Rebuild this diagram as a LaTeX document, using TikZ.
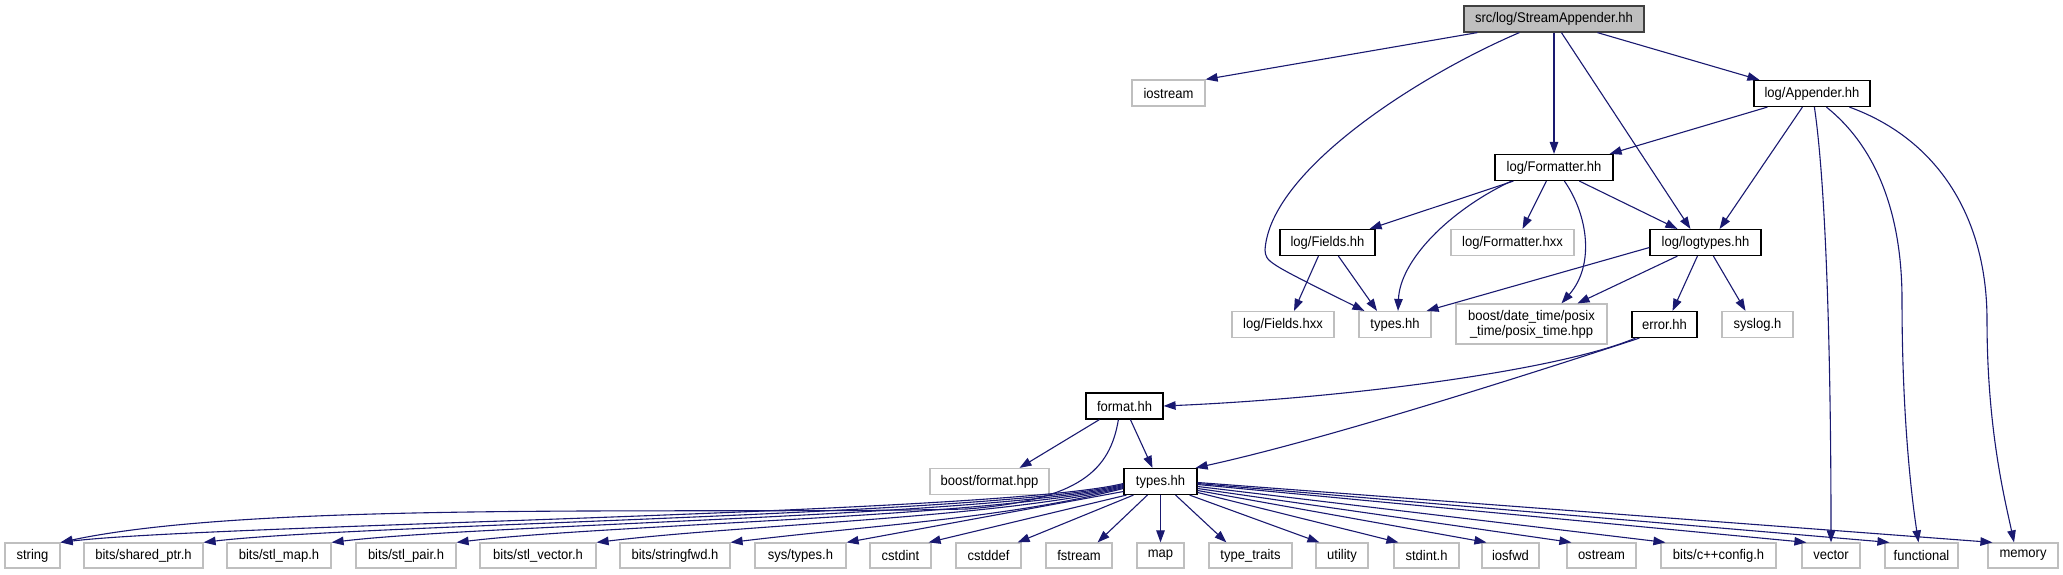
\documentclass[tikz,border=0pt]{standalone}
\usepackage{fontspec}
\setmainfont{Liberation Sans}[FakeStretch=0.93]
\usetikzlibrary{arrows.meta}
\definecolor{edgeblue}{HTML}{191970}
\definecolor{extgray}{HTML}{BFBFBF}
\definecolor{rootline}{HTML}{404040}

\begin{document}
\begin{tikzpicture}[x=1pt, y=-1pt,
    font=\fontsize{14}{15}\selectfont,
    filebox/.style={rectangle, inner sep=0pt, minimum height=26, line width=1.2pt,
                    align=center},
    docfile/.style={filebox, draw=black, fill=white},
    extfile/.style={filebox, draw=extgray, fill=white},
    mainfile/.style={filebox, draw=rootline, fill=extgray},
    incl/.style={edgeblue, line width=1.1pt, -{Triangle[length=12pt, width=8.5pt]}},
  ]
  \useasboundingbox (0,0) rectangle (2063,575);

  % the header itself and what it includes directly
  \node[mainfile, minimum width=180] (root) at (1554,19) {src/log/StreamAppender.hh};
  \node[extfile, minimum width=73] (iostream) at (1168.5,93) {iostream};
  \node[docfile, minimum width=116] (appender) at (1812,93.5) {log/Appender.hh};
  \node[docfile, minimum width=118] (formatter) at (1554,167.5) {log/Formatter.hh};

  % second level
  \node[docfile, minimum width=95] (fields) at (1327.5,242.5) {log/Fields.hh};
  \node[extfile, minimum width=123] (formatterhxx) at (1512.5,242.5) {log/Formatter.hxx};
  \node[docfile, minimum width=111] (logtypes) at (1705.5,242.5) {log/logtypes.hh};

  \node[extfile, minimum width=102] (fieldshxx) at (1283,324.5) {log/Fields.hxx};
  \node[extfile, minimum width=72] (typesA) at (1395,324.5) {types.hh};
  \node[extfile, minimum width=151, minimum height=40] (posix) at (1531.5,324)
    {boost/date\_time/posix\\\_time/posix\_time.hpp};
  \node[docfile, minimum width=65] (error) at (1664.5,324.5) {error.hh};
  \node[extfile, minimum width=71] (syslog) at (1757.5,324.5) {syslog.h};

  \node[docfile, minimum width=77] (format) at (1124.5,406) {format.hh};
  \node[extfile, minimum width=119] (boostformat) at (989.5,481.5) {boost/format.hpp};
  \node[docfile, minimum width=73] (typesB) at (1160.5,481.5) {types.hh};

  % system headers along the bottom
  \foreach \n/\x/\w/\t in {string/32.5/55/{string}, sharedptr/143.5/119/{bits/shared\_ptr.h},
      stlmap/279/104/{bits/stl\_map.h}, stlpair/406/100/{bits/stl\_pair.h},
      stlvector/538/116/{bits/stl\_vector.h}, stringfwd/675/110/{bits/stringfwd.h},
      systypes/800.5/91/{sys/types.h}, cstdint/900.5/61/{cstdint}, cstddef/988.5/65/{cstddef},
      fstream/1079/66/{fstream}, map/1160.5/47/{map}, typetraits/1250.5/83/{type\_traits},
      utility/1342/52/{utility}, stdint/1426.5/65/{stdint.h}, iosfwd/1510.5/57/{iosfwd},
      ostream/1601.5/69/{ostream}, cxxconfig/1718.5/115/{bits/c++config.h},
      vector/1831/58/{vector}, functional/1921.5/73/{functional}, memory/2023/70/{memory}}
    \node[extfile, minimum width=\w, minimum height=25] (\n) at (\x,555.5) {\t};

  % includes of StreamAppender.hh
  \draw[incl] ([xshift=14]root.south west) -- (iostream.north east);
  \draw[incl] ([xshift=56]root.south west) .. controls (1420,75) and (1270,170) .. (1265,250)
    .. controls (1266,262) .. ([xshift=6]typesA.north west);
  \draw[incl] (root) -- (formatter);
  \draw[incl] ([xshift=98]root.south west) -- ([xshift=41]logtypes.north west);
  \draw[incl] ([xshift=134]root.south west) -- ([xshift=6]appender.north west);

  % Appender.hh
  \draw[incl] ([xshift=14]appender.south west) -- ([xshift=-4]formatter.north east);
  \draw[incl] ([xshift=49]appender.south west) -- ([xshift=-42]logtypes.north east);
  \draw[incl] ([xshift=61]appender.south west) .. controls (1828,200) and (1831,400) .. (vector.north);
  \draw[incl] ([xshift=73]appender.south west) .. controls (1880,150) and (1902,220) .. (1902,300)
    .. controls (1902,420) and (1912,500) .. ([xshift=-3]functional.north);
  \draw[incl] ([xshift=96]appender.south west) .. controls (1940,140) and (1987,220) .. (1987,320)
    .. controls (1987,430) and (2005,500) .. ([xshift=-9]memory.north);

  % Formatter.hh
  \draw[incl] ([xshift=19]formatter.south west) -- ([xshift=-6]fields.north east);
  \draw[incl] ([xshift=17]formatter.south west) .. controls (1450,210) and (1400,260) .. ([xshift=3]typesA.north);
  \draw[incl] ([xshift=52]formatter.south west) -- ([xshift=10]formatterhxx.north);
  \draw[incl] ([xshift=70]formatter.south west) .. controls (1588,215) and (1595,265) .. ([xshift=30]posix.north);
  \draw[incl] ([xshift=85]formatter.south west) -- ([xshift=28]logtypes.north west);

  % Fields.hh and logtypes.hh
  \draw[incl] ([xshift=39]fields.south west) -- ([xshift=11]fieldshxx.north);
  \draw[incl] ([xshift=59]fields.south west) -- ([xshift=-18]typesA.north);
  \draw[incl] ([yshift=-5]logtypes.west) -- ([xshift=-5]typesA.north east);
  \draw[incl] ([xshift=28]logtypes.south west) -- ([xshift=46]posix.north);
  \draw[incl] ([xshift=48]logtypes.south west) -- ([xshift=8]error.north);
  \draw[incl] ([xshift=64]logtypes.south west) -- ([xshift=-12]syslog.north);

  % error.hh and format.hh
  \draw[incl] ([xshift=4]error.south west) .. controls (1560,370) and (1350,398) .. (format.east);
  \draw[incl] ([xshift=8]error.south west) .. controls (1450,400) and (1300,445) .. ([xshift=-2]typesB.north east);
  \draw[incl] ([xshift=14]format.south west) -- ([xshift=30]boostformat.north);
  \draw[incl] ([xshift=45]format.south west) -- ([xshift=-8]typesB.north);
  \draw[incl] ([xshift=33]format.south west) .. controls (1110,470) and (1080,500) .. (967,509)
    .. controls (700,515) and (260,500) .. (string.north east);

  % types.hh
  \foreach \n/\s in {string/2, sharedptr/3, stlmap/4, stlpair/5, stlvector/6, stringfwd/7}
    \draw[incl] ([yshift=-\s]typesB.west) .. controls +(-120,30) and +(150,-18) .. (\n.north east);
  \draw[incl] ([yshift=-10]typesB.west) -- (systypes.north east);
  \draw[incl] ([xshift=3]typesB.south west) -- ([xshift=-3]cstdint.north east);
  \draw[incl] ([xshift=10]typesB.south west) -- ([xshift=-4]cstddef.north east);
  \draw[incl] ([xshift=24]typesB.south west) -- ([xshift=-15]fstream.north east);
  \draw[incl] (typesB) -- (map);
  \draw[incl] ([xshift=-22]typesB.south east) -- ([xshift=18]typetraits.north west);
  \draw[incl] ([xshift=-8]typesB.south east) -- ([xshift=4]utility.north west);
  \foreach \n/\s in {stdint/11, iosfwd/9, ostream/7, cxxconfig/5, vector/3, functional/2, memory/1}
    \draw[incl] ([yshift=-\s]typesB.east) -- ([xshift=5]\n.north west);
\end{tikzpicture}
\end{document}
